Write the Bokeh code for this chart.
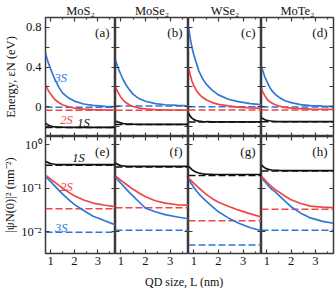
from bokeh.plotting import figure
from bokeh.layouts import column, row
from bokeh.models import (Range1d, LinearAxis, LogAxis, FixedTicker, Span, Label,
                          CustomLabelingPolicy)
from bokeh.embed import file_html
from bokeh.resources import INLINE

# ---------------- data ----------------
materials = ["MoS₂", "MoSe₂", "WSe₂", "MoTe₂"]
tags_energy = ["(a)", "(b)", "(c)", "(d)"]
tags_density = ["(e)", "(f)", "(g)", "(h)"]
states = ["1S", "2S", "3S"]

L_nm = [0.78, 0.85, 0.92, 1.0, 1.1, 1.2, 1.35, 1.5, 1.75, 2.0, 2.4, 2.8, 3.3, 3.75]

# energies (eV), solid curves
E1S_MoS2 = [-0.167, -0.178, -0.187, -0.195, -0.200, -0.203, -0.205, -0.206, -0.207, -0.207, -0.207, -0.207, -0.207, -0.207]
E2S_MoS2 = [0.22, 0.185, 0.155, 0.128, 0.095, 0.068, 0.04, 0.02, 0.0, -0.013, -0.024, -0.029, -0.032, -0.033]
E3S_MoS2 = [0.54, 0.48, 0.43, 0.38, 0.32, 0.265, 0.195, 0.14, 0.09, 0.057, 0.028, 0.013, 0.004, 0.0]

E1S_MoSe2 = [-0.150, -0.150, -0.156, -0.163, -0.169, -0.172, -0.175, -0.176, -0.177, -0.177, -0.177, -0.177, -0.177, -0.177]
E2S_MoSe2 = [0.20, 0.16, 0.13, 0.095, 0.065, 0.042, 0.018, 0.002, -0.014, -0.022, -0.028, -0.031, -0.033, -0.034]
E3S_MoSe2 = [0.47, 0.415, 0.37, 0.325, 0.27, 0.225, 0.17, 0.125, 0.08, 0.055, 0.032, 0.02, 0.013, 0.01]

E1S_WSe2 = [-0.066, -0.095, -0.115, -0.13, -0.14, -0.145, -0.149, -0.151, -0.152, -0.152, -0.152, -0.152, -0.152, -0.152]
E2S_WSe2 = [0.40, 0.32, 0.26, 0.21, 0.165, 0.13, 0.095, 0.07, 0.042, 0.024, 0.008, -0.004, -0.012, -0.016]
E3S_WSe2 = [0.80, 0.69, 0.60, 0.52, 0.44, 0.36, 0.285, 0.228, 0.165, 0.12, 0.076, 0.051, 0.032, 0.022]

E1S_MoTe2 = [-0.11, -0.122, -0.131, -0.137, -0.141, -0.144, -0.147, -0.149, -0.15, -0.15, -0.15, -0.15, -0.15, -0.15]
E2S_MoTe2 = [0.18, 0.14, 0.11, 0.08, 0.055, 0.037, 0.02, 0.008, -0.006, -0.013, -0.019, -0.023, -0.025, -0.026]
E3S_MoTe2 = [0.40, 0.35, 0.30, 0.255, 0.205, 0.165, 0.125, 0.095, 0.06, 0.042, 0.022, 0.012, 0.006, 0.004]

# energies (eV), dashed limits, per material
E1S_limit = [-0.21, -0.18, -0.155, -0.152]
E2S_limit = [-0.036, -0.036, -0.033, -0.033]
E3S_limit = [-0.004, 0.008, 0.0, -0.003]

# |psi_N(0)|^2 (nm^-2), solid curves
D1S_MoS2 = [0.42, 0.40, 0.385, 0.372, 0.362, 0.357, 0.353, 0.351, 0.35, 0.35, 0.35, 0.35, 0.35, 0.35]
D2S_MoS2 = [0.2, 0.188, 0.176, 0.163, 0.148, 0.135, 0.117, 0.102, 0.082, 0.068, 0.054, 0.046, 0.041, 0.038]
D3S_MoS2 = [0.19, 0.172, 0.158, 0.143, 0.125, 0.11, 0.09, 0.075, 0.056, 0.043, 0.031, 0.023, 0.018, 0.0145]

D1S_MoSe2 = [0.38, 0.36, 0.345, 0.335, 0.328, 0.325, 0.322, 0.321, 0.32, 0.32, 0.32, 0.32, 0.32, 0.32]
D2S_MoSe2 = [0.19, 0.178, 0.166, 0.153, 0.139, 0.126, 0.109, 0.095, 0.077, 0.064, 0.052, 0.046, 0.042, 0.041]
D3S_MoSe2 = [0.18, 0.162, 0.147, 0.131, 0.114, 0.099, 0.08, 0.066, 0.048, 0.035, 0.029, 0.025, 0.022, 0.02]

D1S_WSe2 = [0.32, 0.295, 0.27, 0.25, 0.235, 0.225, 0.216, 0.212, 0.209, 0.208, 0.208, 0.208, 0.208, 0.208]
D2S_WSe2 = [0.174, 0.158, 0.144, 0.13, 0.115, 0.102, 0.086, 0.073, 0.058, 0.048, 0.039, 0.032, 0.026, 0.022]
D3S_WSe2 = [0.16, 0.14, 0.122, 0.105, 0.088, 0.075, 0.061, 0.051, 0.038, 0.029, 0.021, 0.016, 0.0125, 0.0107]

D1S_MoTe2 = [0.34, 0.315, 0.295, 0.28, 0.27, 0.264, 0.26, 0.258, 0.256, 0.256, 0.256, 0.256, 0.256, 0.256]
D2S_MoTe2 = [0.19, 0.172, 0.157, 0.14, 0.123, 0.109, 0.093, 0.083, 0.066, 0.055, 0.045, 0.039, 0.037, 0.036]
D3S_MoTe2 = [0.175, 0.158, 0.142, 0.126, 0.109, 0.095, 0.083, 0.069, 0.051, 0.038, 0.027, 0.021, 0.0175, 0.0158]

# dashed limits, per material
D1S_limit = [0.34, 0.31, 0.197, 0.25]
D2S_limit = [0.034, 0.036, 0.018, 0.033]
D3S_limit = [0.0098, 0.011, 0.005, 0.011]

# ticks
x_ticks = [1, 2, 3]
x_minor_ticks = [1.5, 2.5, 3.5]
energy_ticks = [0.0, 0.4, 0.8]
energy_minor_ticks = [-0.2, 0.2, 0.6]
energy_tick_labels = ["0", "0.4", "0.8"]
density_ticks = [0.01, 0.1, 1.0]
density_tick_labels = ["10⁻²", "10⁻¹", "10⁰"]

# ---------------- assembling ----------------
energy_curves = [[E1S_MoS2, E2S_MoS2, E3S_MoS2], [E1S_MoSe2, E2S_MoSe2, E3S_MoSe2],
                 [E1S_WSe2, E2S_WSe2, E3S_WSe2], [E1S_MoTe2, E2S_MoTe2, E3S_MoTe2]]
energy_limits = [E1S_limit, E2S_limit, E3S_limit]
density_curves = [[D1S_MoS2, D2S_MoS2, D3S_MoS2], [D1S_MoSe2, D2S_MoSe2, D3S_MoSe2],
                  [D1S_WSe2, D2S_WSe2, D3S_WSe2], [D1S_MoTe2, D2S_MoTe2, D3S_MoTe2]]
density_limits = [D1S_limit, D2S_limit, D3S_limit]

FONT = "Liberation Serif, serif"
FS = "12.5px"
FRAME = "#3a3a3a"
INK = "#111111"
COLORS = ["#111111", "#ef4545", "#2e77d6"]

X_LO, X_HI = 0.78, 3.75
E_LO, E_HI = -0.3, 0.9
D_LO, D_HI = 0.0032, 1.55

col_w = [115, 73, 73, 74]
pad_l = [42, 0, 0, 0]
pad_r = [0, 0, 0, 2]

HIDE_LABELS = "try { return new indices.constructor(indices.size, 0) } catch (e) { return indices }"


def style_axis(ax, show, minor_in=2):
    ax.axis_line_color = None
    ax.major_tick_in = 4
    ax.major_tick_out = 0
    ax.minor_tick_in = minor_in
    ax.minor_tick_out = 0
    ax.major_tick_line_color = FRAME
    ax.minor_tick_line_color = FRAME
    ax.major_tick_line_width = 1.2
    ax.minor_tick_line_width = 1.2
    ax.major_label_text_font = FONT
    ax.major_label_text_color = INK
    if show:
        ax.major_label_text_font_size = FS
        ax.major_label_standoff = 4
    else:
        ax.major_label_text_font_size = "0px"
        ax.major_label_standoff = 0
        ax.major_label_policy = CustomLabelingPolicy(code=HIDE_LABELS)


def make_panel(ci, log):
    p = figure(width=col_w[ci], height=137 if log else 136,
               x_range=Range1d(X_LO, X_HI),
               y_range=Range1d(D_LO, D_HI) if log else Range1d(E_LO, E_HI),
               y_axis_type="log" if log else "linear",
               x_axis_location=None, y_axis_location=None,
               toolbar_location=None, output_backend="svg",
               min_border_left=pad_l[ci], min_border_right=pad_r[ci],
               min_border_top=0 if log else 17, min_border_bottom=20 if log else 0)
    p.grid.visible = False
    p.outline_line_color = FRAME
    p.outline_line_width = 1.5
    p.background_fill_color = "white"
    p.border_fill_color = "white"

    if not log:
        p.title.text = materials[ci]
        p.title.align = "center"
        p.title.standoff = 0
        p.title.offset = 0
        p.title.text_font = FONT
        p.title.text_font_size = FS
        p.title.text_font_style = "normal"
        p.title.text_color = INK

    for side in ("below", "above"):
        ax = LinearAxis(ticker=FixedTicker(ticks=x_ticks, minor_ticks=x_minor_ticks))
        style_axis(ax, side == "below" and log)
        if side == "below" and log:
            ax.major_label_standoff = 3
        p.add_layout(ax, side)

    for side in ("left", "right"):
        show = side == "left" and ci == 0
        if log:
            ax = LogAxis(ticker=FixedTicker(ticks=density_ticks, minor_ticks=[]))
            ax.major_label_overrides = dict(zip(density_ticks, density_tick_labels))
        else:
            ax = LinearAxis(ticker=FixedTicker(ticks=energy_ticks, minor_ticks=energy_minor_ticks))
            ax.major_label_overrides = dict(zip(energy_ticks, energy_tick_labels))
        style_axis(ax, show, minor_in=4)
        if show:
            ax.axis_label = "|ψN(0)|² (nm⁻²)" if log else "Energy, εN (eV)"
            ax.axis_label_text_font = FONT
            ax.axis_label_text_font_size = FS
            ax.axis_label_text_font_style = "normal"
            ax.axis_label_text_color = INK
            ax.axis_label_standoff = 1 if log else 5
        p.add_layout(ax, side)

    curves = density_curves[ci] if log else energy_curves[ci]
    limits = density_limits if log else energy_limits
    for si in range(3):
        p.add_layout(Span(location=limits[si][ci], dimension="width", line_color=COLORS[si],
                          line_width=1.5, line_dash="7 3", level="underlay"))
    for si in (2, 1, 0):
        p.line(L_nm, curves[si], line_color=COLORS[si], line_width=1.7)

    tag = tags_density[ci] if log else tags_energy[ci]
    p.add_layout(Label(x=X_HI, y=D_HI if log else E_HI, text=tag, x_offset=-6, y_offset=-15,
                       text_align="right", text_baseline="middle", text_font=FONT,
                       text_font_size="13px", text_color=INK))
    return p


top_figs = [make_panel(ci, False) for ci in range(4)]
bottom_figs = [make_panel(ci, True) for ci in range(4)]

# state labels in panels (a) and (e)
label_pos_energy = {"3S": (1.43, 0.29), "2S": (1.67, -0.13), "1S": (2.39, -0.159)}
label_pos_density = {"1S": (2.18, 0.51), "2S": (1.67, 0.107), "3S": (1.45, 0.0123)}
for si, st in enumerate(states):
    for fig, pos in ((top_figs[0], label_pos_energy), (bottom_figs[0], label_pos_density)):
        fig.add_layout(Label(x=pos[st][0], y=pos[st][1], text=st, text_align="center",
                             text_baseline="middle", text_font=FONT, text_font_size="12.5px",
                             text_font_style="italic", text_color=COLORS[si]))

# common x-axis label
xlabel_strip = figure(width=335, height=15, x_range=Range1d(0, 4), y_range=Range1d(0, 1),
                      x_axis_location=None, y_axis_location=None, toolbar_location=None,
                      output_backend="svg", min_border_left=42, min_border_right=2,
                      min_border_top=0, min_border_bottom=0)
xlabel_strip.grid.visible = False
xlabel_strip.outline_line_color = None
xlabel_strip.background_fill_color = "white"
xlabel_strip.border_fill_color = "white"
xlabel_strip.add_layout(Label(x=1.95, y=0.5, y_offset=-1, text="QD size, L (nm)",
                              text_align="center", text_baseline="middle", text_font=FONT,
                              text_font_size="12px", text_color=INK))

layout = column(row(*top_figs), row(*bottom_figs), xlabel_strip)

open("out.html", "w").write(file_html(layout, INLINE))
